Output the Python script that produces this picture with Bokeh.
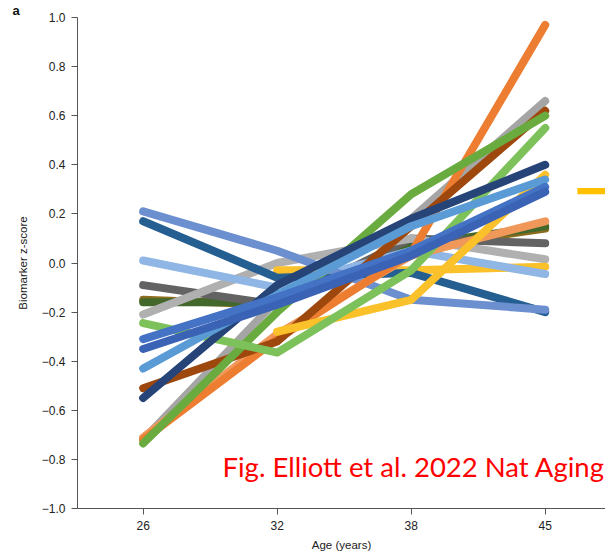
import math
from bokeh.plotting import figure
from bokeh.models import (FixedTicker, CustomJSTickFormatter, Label, BoxAnnotation, Range1d)
from bokeh.embed import file_html
from bokeh.resources import INLINE

nan = float("nan")

ages = ["26", "32", "38", "45"]

# Biomarker z-scores at ages 26, 32, 38, 45
olive = [-0.15, -0.17, 0.06, 0.14]
dark_green = [-0.16, -0.16, 0.07, 0.15]
dark_gray = [-0.09, -0.17, 0.10, 0.08]
gray_a = [-0.21, 0.00, 0.10, 0.015]
gold_a = [nan, -0.03, -0.03, -0.015]
pale_blue = [0.01, -0.10, 0.05, -0.045]
dark_blue = [0.17, -0.06, -0.04, -0.20]
lavender = [0.21, 0.05, -0.15, -0.19]
gray_b = [-0.72, -0.15, 0.18, 0.66]
orange_light = [-0.71, -0.29, 0.03, 0.17]
orange_dark = [-0.72, -0.31, 0.04, 0.97]
brown = [-0.51, -0.32, 0.15, 0.62]
green_a = [-0.735, -0.20, 0.28, 0.60]
gold_b = [nan, -0.28, -0.15, 0.36]
green_light = [-0.245, -0.365, -0.03, 0.55]
navy = [-0.55, -0.09, 0.18, 0.40]
blue_mid = [-0.43, -0.13, 0.15, 0.34]
blue_1 = [-0.31, -0.14, 0.05, 0.31]
blue_2 = [-0.35, -0.17, 0.03, 0.29]

series = [
    (olive, "#8C6D1F"),
    (dark_green, "#43682B"),
    (dark_gray, "#636363"),
    (gray_a, "#B0B0B0"),
    (gold_a, "#FBC12A"),
    (pale_blue, "#8FB6E4"),
    (dark_blue, "#255E91"),
    (lavender, "#6C8FD0"),
    (gray_b, "#A5A5A5"),
    (orange_light, "#F0975A"),
    (orange_dark, "#ED7D31"),
    (brown, "#9E480E"),
    (green_a, "#6AAB3F"),
    (gold_b, "#FBC12A"),
    (green_light, "#7DC15A"),
    (navy, "#264478"),
    (blue_mid, "#5B9BD5"),
    (blue_1, "#4472C4"),
    (blue_2, "#3A62B5"),
]

xs = list(range(len(ages)))

p = figure(width=605, height=558, output_backend="svg", toolbar_location=None,
           x_range=Range1d(-0.49, 3.45), y_range=Range1d(-1.0, 1.0),
           min_border_left=77, min_border_right=0, min_border_top=17, min_border_bottom=50)
p.outline_line_color = None
p.grid.visible = False
p.background_fill_color = "white"
p.border_fill_color = "white"

p.title.text = "a"
p.title.align = "left"
p.title.vertical_align = "bottom"
p.title.offset = -65
p.title.standoff = 0
p.title.text_font = "Liberation Sans"
p.title.text_font_size = "13px"
p.title.text_font_style = "bold"
p.title.text_color = "#111111"

for vals, col in series:
    p.line(xs, vals, line_color=col, line_width=8, line_cap="round", line_join="round")

font = "Liberation Sans"
p.xaxis.ticker = FixedTicker(ticks=xs)
p.xaxis.major_label_overrides = {i: a for i, a in zip(xs, ages)}
p.yaxis.ticker = FixedTicker(ticks=[-1.0, -0.8, -0.6, -0.4, -0.2, 0.0, 0.2, 0.4, 0.6, 0.8, 1.0])
p.yaxis.formatter = CustomJSTickFormatter(
    code='return (tick < -1e-9 ? "\\u2212" : "") + Math.abs(tick).toFixed(1);')
for ax in (p.xaxis, p.yaxis):
    ax.axis_line_color = "#555555"
    ax.major_tick_line_color = "#555555"
    ax.major_tick_out = 6
    ax.major_tick_in = 0
    ax.minor_tick_line_color = None
    ax.major_label_text_font = font
    ax.major_label_text_font_size = "12px"
    ax.major_label_text_color = "#222222"
    ax.axis_label_text_font = font
    ax.axis_label_text_font_size = "11.5px"
    ax.axis_label_text_font_style = "normal"
    ax.axis_label_text_color = "#222222"
    ax.major_label_standoff = 6
p.xaxis.axis_label = "Age (years)"
p.yaxis.axis_label = "Biomarker z-score"
p.xaxis.axis_label_standoff = 6
p.yaxis.axis_label_standoff = 10

# screen units here are relative to the plot frame (left / bottom)
p.add_layout(Label(x=145, y=26, x_units="screen", y_units="screen",
                   text="Fig. Elliott et al. 2022 Nat Aging",
                   text_font="Lato", text_font_size="27.5px", text_color="#FF0000"))
p.add_layout(BoxAnnotation(left=3.24, right=3.6, bottom=0.28, top=0.305,
                           fill_color="#FFC000", fill_alpha=1, line_color=None))

open("out.html", "w").write(file_html(p, INLINE))
